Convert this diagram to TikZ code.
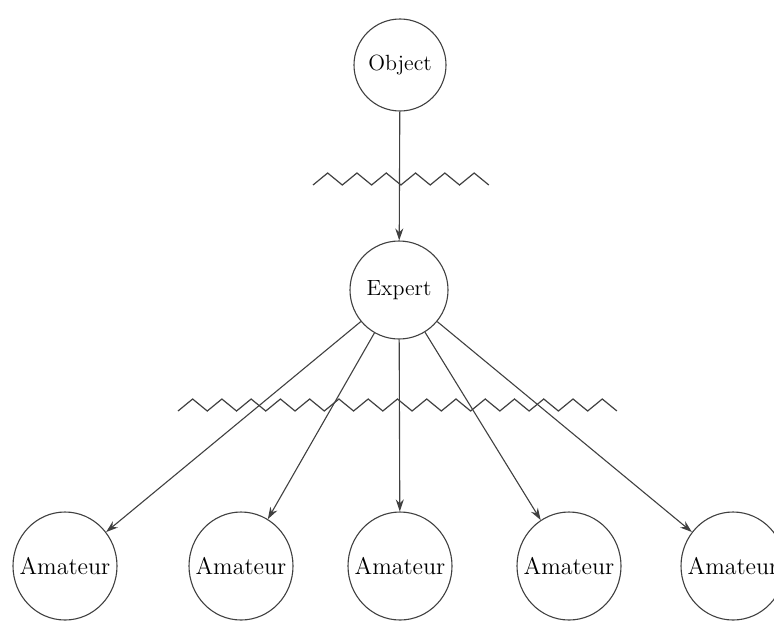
\documentclass[tikz,border=0pt]{standalone}
\usepackage{tikz}
\usetikzlibrary{arrows.meta}
\usetikzlibrary{shapes.geometric}

\tikzset{
  person/.style={draw, circle, inner sep=0, minimum size=#1, font=\fontsize{11}{13}\selectfont},
  amateur/.style={draw, ellipse, inner sep=0, minimum width=52pt, minimum height=54pt, font=\fontsize{12}{14}\selectfont},
  noise/.style={line width=0.6pt, line join=miter}
}

\begin{document}
\begin{tikzpicture} [x=0.5pt, y=-0.5pt, black!75, line width=0.55pt, >={Stealth[length=6pt,width=4pt]}]
\useasboundingbox (0,0) rectangle (774,621);
\node[person=46pt, text=black] (obj) at (400,65) {Object};
\node[person=49pt, text=black] (exp) at (399,290) {Expert};
\foreach \x [count=\i] in {65,241,400,569,733} {
 \node[amateur, text=black] (am\i) at (\x,566) {\makebox[0pt]{Amateur}};
}
\draw[->] (obj) -- (exp);
\foreach \i in {1,...,5}
 \draw[->] (exp) -- (am\i);
% noise between the stages
\draw[noise] (313,185) \foreach \k in {1,...,6} { -- ++(14.65,-12) -- ++(14.65,12) };
\draw[noise] (178,411) \foreach \k in {1,...,15} { -- ++(14.63,-12) -- ++(14.63,12) };
\end{tikzpicture}
\end{document}
